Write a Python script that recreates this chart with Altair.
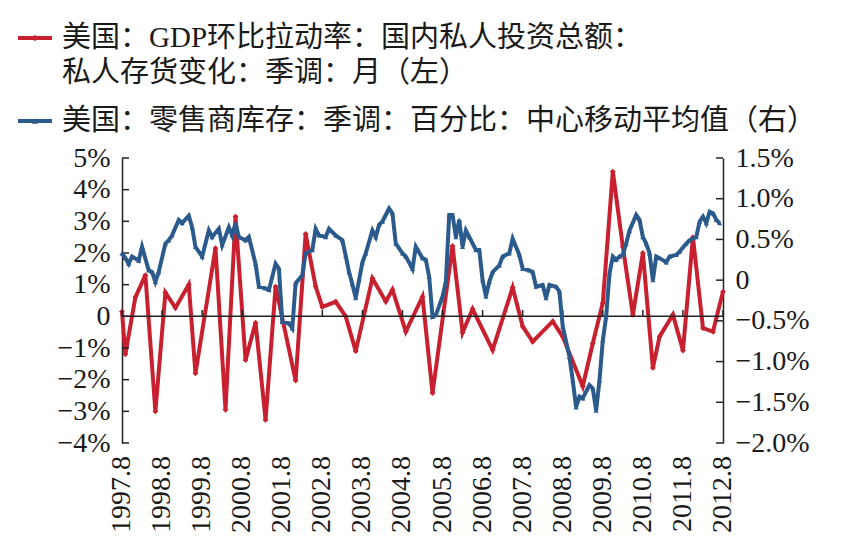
import altair as alt
import pandas as pd

RED = "#C8202F"
BLUE = "#2B5A8C"
INK = "#1a1a1a"

# ---- data (x = months since 1997.8) ----
year_ticks = list(range(0, 181, 12))
year_labels = [f"{y}.8" for y in range(1997, 2013)]

red_month = [0, 1, 4, 7, 10, 13, 16, 20, 22, 28, 31, 34, 37, 40, 43, 46, 52, 55, 58, 60,
             64, 67, 70, 75, 79, 81, 85, 90, 93, 99, 102, 105, 111, 117, 120, 123, 129,
             132, 138, 141, 144, 147, 150, 153, 156, 159, 161, 165, 168, 171, 174, 177, 180]
red_value = [0.15, -1.2, 0.6, 1.3, -3.0, 0.75, 0.27, 1.0, -1.8, 2.15, -2.95, 3.15, -1.38, -0.2,
             -3.27, 0.94, -2.03, 2.6, 0.94, 0.3, 0.46, 0.0, -1.1, 1.2, 0.47, 0.84, -0.48, 0.62,
             -2.42, 2.22, -0.51, 0.23, -1.06, 0.91, -0.32, -0.8, -0.16, -0.64, -2.21, -0.85,
             0.42, 4.57, 2.2, 0.05, 2.0, -1.63, -0.64, 0.05, -1.08, 2.5, -0.37, -0.48, 0.78]

blue_month = [0, 1, 2, 3, 5, 6, 8, 9, 10, 11, 13, 14, 15, 17, 18, 20, 21, 22, 24, 26, 27, 29,
              30, 32, 33, 34, 35, 37, 38, 40, 41, 43, 44, 46, 47, 48, 50, 51, 52, 54, 55, 57,
              58, 59, 61, 62, 64, 66, 67, 68, 69, 70, 71, 72, 73, 75, 76, 77, 78, 80, 81, 82,
              84, 85, 87, 88, 90, 91, 92, 93, 94, 96, 97, 98, 99, 100, 101, 102, 103, 104, 106,
              107, 108, 109, 110, 111, 113, 114, 116, 117, 119, 120, 122, 123, 124, 126, 127,
              128, 130, 131, 132, 134, 135, 136, 137, 138, 140, 141, 142, 143, 144, 145, 146,
              147, 148, 149, 150, 151, 152, 154, 155, 156, 157, 158, 159, 160, 161, 163, 164,
              166, 167, 169, 170, 172, 173, 174, 175, 176, 177, 178, 179]
blue_value = [0.33, 0.27, 0.20, 0.29, 0.24, 0.41, 0.12, 0.10, -0.02, 0.10, 0.45, 0.49, 0.55,
              0.74, 0.70, 0.79, 0.65, 0.41, 0.29, 0.61, 0.53, 0.63, 0.43, 0.65, 0.55, 0.70,
              0.53, 0.49, 0.53, 0.20, -0.08, -0.10, -0.12, 0.20, 0.14, -0.51, -0.53, -0.59,
              -0.04, 0.06, 0.33, 0.37, 0.63, 0.55, 0.53, 0.63, 0.55, 0.49, 0.30, 0.10, -0.05,
              -0.22, 0.0, 0.22, 0.33, 0.61, 0.53, 0.68, 0.72, 0.88, 0.82, 0.45, 0.33, 0.29,
              0.14, 0.41, 0.27, 0.25, 0.04, -0.45, -0.43, -0.20, -0.02, 0.80, 0.80, 0.53, 0.74,
              0.41, 0.61, 0.53, 0.37, 0.37, 0.00, -0.20, -0.02, 0.10, 0.18, 0.29, 0.33, 0.51,
              0.31, 0.14, 0.12, 0.10, -0.08, -0.06, -0.22, -0.06, -0.08, -0.14, -0.57, -0.94,
              -1.23, -1.56, -1.43, -1.45, -1.29, -1.33, -1.60, -1.23, -0.74, -0.45, 0.08, 0.29,
              0.25, 0.29, 0.31, 0.45, 0.61, 0.80, 0.74, 0.53, 0.45, 0.33, 0.00, 0.29, 0.27,
              0.22, 0.29, 0.31, 0.35, 0.45, 0.49, 0.53, 0.72, 0.78, 0.70, 0.84, 0.82, 0.74, 0.70]

left_ticks = [-4, -3, -2, -1, 0, 1, 2, 3, 4, 5]
right_ticks = [-2.0, -1.5, -1.0, -0.5, 0.0, 0.5, 1.0, 1.5]

legend_lines = ["美国：GDP环比拉动率：国内私人投资总额：",
                "私人存货变化：季调：月（左）",
                "美国：零售商库存：季调：百分比：中心移动平均值（右）"]

# ---- layout ----
W, H = 601, 285
NUM_FONT = "Liberation Serif"
TXT_FONT = "Liberation Serif, Noto Sans CJK SC"

x_scale = alt.Scale(domain=[0, 180], nice=False, zero=False)
left_scale = alt.Scale(domain=[-4, 5], nice=False, zero=False)
right_scale = alt.Scale(domain=[-2, 1.5], nice=False, zero=False)

left_axis = alt.Axis(orient="left", values=left_ticks,
                     labelExpr="datum.value == 0 ? '0' : (datum.value < 0 ? '−' : '') + abs(datum.value) + '%'",
                     labelFont=NUM_FONT, labelFontSize=28, labelColor=INK, labelPadding=12,
                     labelOverlap=False, labelFlush=False,
                     ticks=False, domain=True, domainColor="#222", domainWidth=1.5,
                     grid=False, title=None)
right_axis = alt.Axis(orient="right", values=right_ticks,
                      labelExpr="datum.value == 0 ? '0' : (datum.value < 0 ? '−' : '') + format(abs(datum.value), '.1f') + '%'",
                      labelFont=NUM_FONT, labelFontSize=28, labelColor=INK, labelPadding=12,
                      labelOverlap=False, labelFlush=False,
                      ticks=False, domain=True, domainColor="#222", domainWidth=1.5,
                      grid=False, title=None)


def X():
    return alt.X("m:Q", scale=x_scale, axis=None)


red_df = pd.DataFrame({"m": red_month, "v": red_value})
blue_df = pd.DataFrame({"m": blue_month, "v": blue_value})

red_line = alt.Chart(red_df).mark_line(color=RED, strokeWidth=4).encode(
    x=X(), y=alt.Y("v:Q", scale=left_scale, axis=left_axis))
red_pts = alt.Chart(red_df).mark_point(shape="diamond", filled=True, size=34, color=RED, opacity=1).encode(
    x=X(), y=alt.Y("v:Q", scale=left_scale, axis=left_axis))
zero_line = alt.Chart(pd.DataFrame({"v": [0]})).mark_rule(color="#222", strokeWidth=1.5).encode(
    y=alt.Y("v:Q", scale=left_scale, axis=left_axis), x=alt.value(0), x2=alt.value(W))
year_tick_marks = alt.Chart(pd.DataFrame({"m": year_ticks, "v": [0] * len(year_ticks),
                                          "v2": [0.2] * len(year_ticks)})).mark_rule(
    color="#222", strokeWidth=1.5).encode(
    x=X(), y=alt.Y("v:Q", scale=left_scale, axis=left_axis), y2="v2:Q")
left_tick_marks = alt.Chart(pd.DataFrame({"v": left_ticks})).mark_rule(color="#222", strokeWidth=1.5).encode(
    y=alt.Y("v:Q", scale=left_scale, axis=left_axis), x=alt.value(0), x2=alt.value(7))

left_group = alt.layer(red_line, red_pts, zero_line, year_tick_marks, left_tick_marks)

blue_line = alt.Chart(blue_df).mark_line(color=BLUE, strokeWidth=4).encode(
    x=X(), y=alt.Y("v:Q", scale=right_scale, axis=right_axis))
blue_pts = alt.Chart(blue_df).mark_point(shape="triangle-up", filled=True, size=26, color=BLUE, opacity=1).encode(
    x=X(), y=alt.Y("v:Q", scale=right_scale, axis=right_axis))
right_tick_marks = alt.Chart(pd.DataFrame({"v": right_ticks})).mark_rule(color="#222", strokeWidth=1.5).encode(
    y=alt.Y("v:Q", scale=right_scale, axis=right_axis), x=alt.value(W - 7), x2=alt.value(W))

right_group = alt.layer(blue_line, blue_pts, right_tick_marks)

# ---- x-axis labels (rotated, below the plot) ----
x_labels = alt.Chart(pd.DataFrame({"m": year_ticks, "lab": year_labels})).mark_text(
    angle=270, align="right", baseline="middle", font=NUM_FONT, fontSize=28, color=INK
).encode(x=X(), y=alt.value(H + 13), text="lab:N")

# ---- legend (drawn above the plot) ----
one = pd.DataFrame({"k": [0]})
leg_y = [-120, -85, -37]
legend_layers = []
for txt, yy in zip(legend_lines, leg_y):
    legend_layers.append(alt.Chart(one).mark_text(
        text=txt, align="left", baseline="middle", font=TXT_FONT, fontSize=29, color=INK
    ).encode(x=alt.value(-60), y=alt.value(yy)))
for col, shape, yy in [(RED, "diamond", leg_y[0]), (BLUE, "triangle-up", leg_y[2])]:
    legend_layers.append(alt.Chart(one).mark_rule(color=col, strokeWidth=4).encode(
        x=alt.value(-104), x2=alt.value(-70), y=alt.value(yy)))
    legend_layers.append(alt.Chart(one).mark_point(shape=shape, filled=True, size=40, color=col, opacity=1).encode(
        x=alt.value(-87), y=alt.value(yy)))

chart = alt.layer(left_group, right_group, x_labels, *legend_layers).resolve_scale(y="independent").properties(
    width=W, height=H,
    autosize=alt.AutoSizeParams(type="none"),
    padding={"left": 122, "top": 158, "right": 136, "bottom": 108},
    background="white",
).configure_view(stroke=None)

chart.save("out.html", embed_options={"renderer": "svg", "actions": False})
